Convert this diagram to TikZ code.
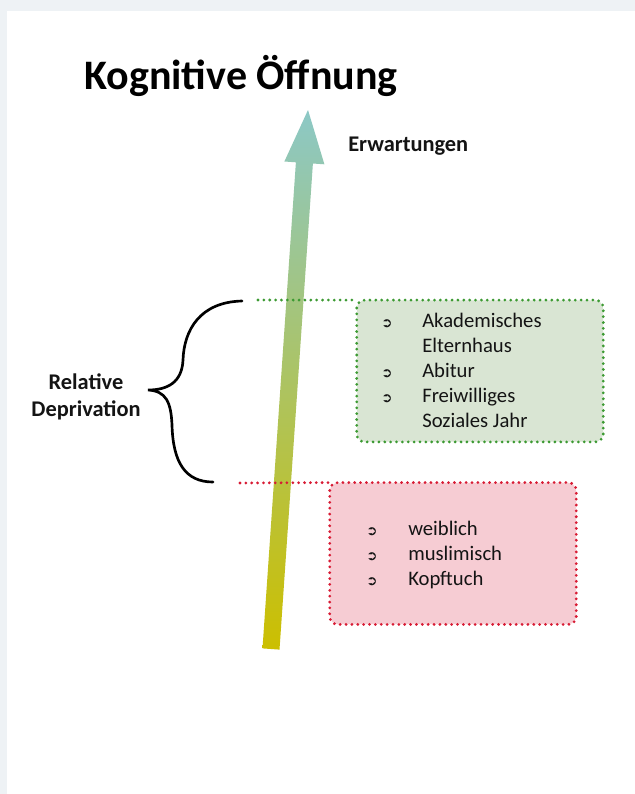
\documentclass[tikz,border=0pt]{standalone}
\usepackage{fontspec}
\setmainfont{Carlito}
\newfontfamily\symfont{DejaVu Sans}
\usetikzlibrary{calc,positioning}

\definecolor{pagegray}{HTML}{EEF2F5}
\definecolor{textgray}{HTML}{141414}
\definecolor{greenfill}{HTML}{D9E5D3}
\definecolor{greenline}{HTML}{3C9A32}
\definecolor{redfill}{HTML}{F6CCD3}
\definecolor{redline}{HTML}{D81B34}
\definecolor{arrowtop}{HTML}{8CC8C6}
\definecolor{arrowbot}{HTML}{CCBF00}

\newcommand{\itembul}{{\symfont\bfseries\fontsize{10}{10}\selectfont ➲}}

\begin{document}
\begin{tikzpicture}[x=0.75pt, y=-0.75pt,
  every node/.style={inner sep=0pt, text=textgray}
]

\tikzset{
  listtext/.style={anchor=base west, font=\fontsize{15.5}{18.75}\selectfont},
  labeltext/.style={font=\bfseries\fontsize{16.8}{20.5}\selectfont},
  dotline/.style={line width=2.3pt, line cap=round, dash pattern=on 0pt off 4.4pt},
  listbox/.style={rectangle, rounded corners=6pt, minimum width=184.5pt, minimum height=106pt}
}

% Page
\useasboundingbox (0,0) rectangle (635,794);
\fill[pagegray] (0,0) rectangle (635,794);
\fill[white] (7,11) rectangle (635,794);

% Title and arrow label
\node[anchor=base west, text=black, font=\bfseries\fontsize{31.5}{38}\selectfont] (title) at (84,89) {Kognitive Öffnung};
\node[anchor=base west, labeltext] (erw) at (348,151) {Erwartungen};

% ---- Arrow ----
\coordinate (tailL) at (262.5,648.4);
\coordinate (tailR) at (279.5,649.6);
\coordinate (shaftL) at (295.9,162.3);
\coordinate (shaftR) at (312.9,163.5);
\coordinate (headL) at (284.4,161.5);
\coordinate (headR) at (324.4,164.3);
\coordinate (tip) at (308,110);
\shade[top color=arrowtop, bottom color=arrowbot]
  (tailL) -- (shaftL) -- (headL) -- (tip) -- (headR) -- (shaftR) -- (tailR) -- cycle;

% ---- Boxes ----
\node[listbox, fill=greenfill] (gbox) at (480,371) {};
\node[listbox, fill=redfill] (rbox) at (453,553.5) {};
\draw[dotline, draw=greenline, rounded corners=6pt] (gbox.north west) rectangle (gbox.south east);
\draw[dotline, draw=redline, rounded corners=6pt] (rbox.north west) rectangle (rbox.south east);

\coordinate (gstart) at (258,300);
\coordinate (rstart) at (240,483);
\draw[dotline, draw=greenline] (gstart) -- (gbox.north west);
\draw[dotline, draw=redline] (rstart) -- (rbox.north west);

% Lists
\node[listtext] (glist) at (381,327) {\begin{tabular}[t]{@{}p{30.75pt}@{}l@{}}
  \itembul & Akademisches\\
           & Elternhaus\\
  \itembul & Abitur\\
  \itembul & Freiwilliges\\
           & Soziales Jahr
\end{tabular}};
\node[listtext] (rlist) at (366,535) {\begin{tabular}[t]{@{}p{31.5pt}@{}l@{}}
  \itembul & weiblich\\
  \itembul & muslimisch\\
  \itembul & Kopftuch
\end{tabular}};

% ---- Brace ----
\coordinate (bracetop) at (242,301);
\coordinate (bracetip) at (148,390);
\coordinate (bracebot) at (213,482);
\draw[line width=2pt, line cap=round] (bracetop)
  .. controls (200,302) and (184,330) .. (183,360)
  .. controls (182,382) and (168,390) .. (bracetip)
  .. controls (166,391) and (171,402) .. (172,425)
  .. controls (173,462) and (185,482) .. (bracebot);
\node[labeltext, align=center] (depr) at (86,397) {Relative\\Deprivation};

\end{tikzpicture}
\end{document}
